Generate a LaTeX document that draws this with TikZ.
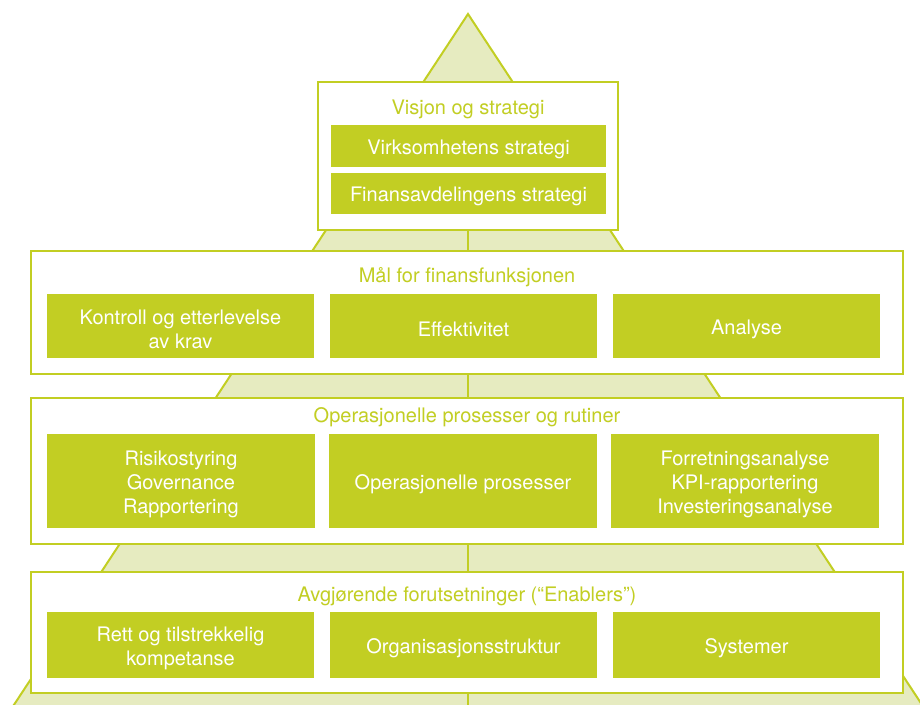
\documentclass[tikz,border=0pt]{standalone}
\usepackage{fontspec}
\setmainfont{TeX Gyre Heros}
\definecolor{lime}{RGB}{194,206,35}
\definecolor{pale}{RGB}{230,235,192}
\begin{document}
\begin{tikzpicture}[x=1pt,y=-1pt,
  outerbox/.style={draw=lime, line width=2.7pt, fill=white, inner sep=0pt, outer sep=0pt, anchor=north west},
  innerbox/.style={fill=lime, inner sep=0pt, outer sep=0pt},
  boxtext/.style={text=white, align=center, inner sep=0pt, yshift=-3pt, font=\fontsize{20}{24}\selectfont},
  titletext/.style={text=lime, inner sep=0pt, yshift=-3pt, font=\fontsize{20}{24}\selectfont},
  tri/.style={draw=lime, fill=pale, line width=2pt}
]
\useasboundingbox (0,0) rectangle (920,704);
\clip (0,0) rectangle (920,704);
% pyramid
\coordinate (apex) at (468,14);
\coordinate (bl) at (4,720);
\coordinate (br) at (932,720);
\coordinate (midtop) at (468,230);
\coordinate (midbot) at (468,720);
\draw[tri] (apex) -- (bl) -- (br) -- cycle;
\draw[draw=lime, line width=2pt] (midtop) -- (midbot);
% outer boxes
\node[outerbox, minimum width=300pt, minimum height=148pt] (visjon) at (318,82) {};
\node[outerbox, minimum width=872pt, minimum height=123pt] (maal) at (31,251) {};
\node[outerbox, minimum width=872pt, minimum height=146pt] (oper) at (31,398) {};
\node[outerbox, minimum width=872pt, minimum height=121pt] (avg) at (31,572) {};
% titles
\node[titletext] (tvisjon) at (468,106) {Visjon og strategi};
\node[titletext] (tmaal) at (467,274) {Mål for finansfunksjonen};
\node[titletext] (toper) at (467,414) {Operasjonelle prosesser og rutiner};
\node[titletext] (tavg) at (467,593) {Avgjørende forutsetninger (“Enablers”)};
% level 1
\node[innerbox, minimum width=275pt, minimum height=42pt, label={[boxtext]center:Virksomhetens strategi}] (virk) at (468.5,146) {};
\node[innerbox, minimum width=275pt, minimum height=41pt, label={[boxtext]center:Finansavdelingens strategi}] (finans) at (468.5,193.5) {};
% level 2
\node[innerbox, minimum width=267pt, minimum height=64pt, label={[boxtext]center:Kontroll og etterlevelse\\av krav}] (kontroll) at (180.5,326) {};
\node[innerbox, minimum width=267pt, minimum height=64pt, label={[boxtext]center:Effektivitet}] (eff) at (463.5,326) {};
\node[innerbox, minimum width=267pt, minimum height=64pt, label={[boxtext]center:Analyse}] (analyse) at (746.5,326) {};
% level 3
\node[innerbox, minimum width=268pt, minimum height=94pt, label={[boxtext]center:Risikostyring\\Governance\\Rapportering}] (risk) at (181,481) {};
\node[innerbox, minimum width=268pt, minimum height=94pt, label={[boxtext]center:Operasjonelle prosesser}] (opproc) at (463,481) {};
\node[innerbox, minimum width=268pt, minimum height=94pt, label={[boxtext]center:Forretningsanalyse\\KPI-rapportering\\Investeringsanalyse}] (forr) at (745,481) {};
% level 4
\node[innerbox, minimum width=267pt, minimum height=66pt, label={[boxtext]center:Rett og tilstrekkelig\\kompetanse}] (rett) at (180.5,645) {};
\node[innerbox, minimum width=267pt, minimum height=66pt, label={[boxtext]center:Organisasjonsstruktur}] (org) at (463.5,645) {};
\node[innerbox, minimum width=267pt, minimum height=66pt, label={[boxtext]center:Systemer}] (sys) at (746.5,645) {};
\end{tikzpicture}
\end{document}
